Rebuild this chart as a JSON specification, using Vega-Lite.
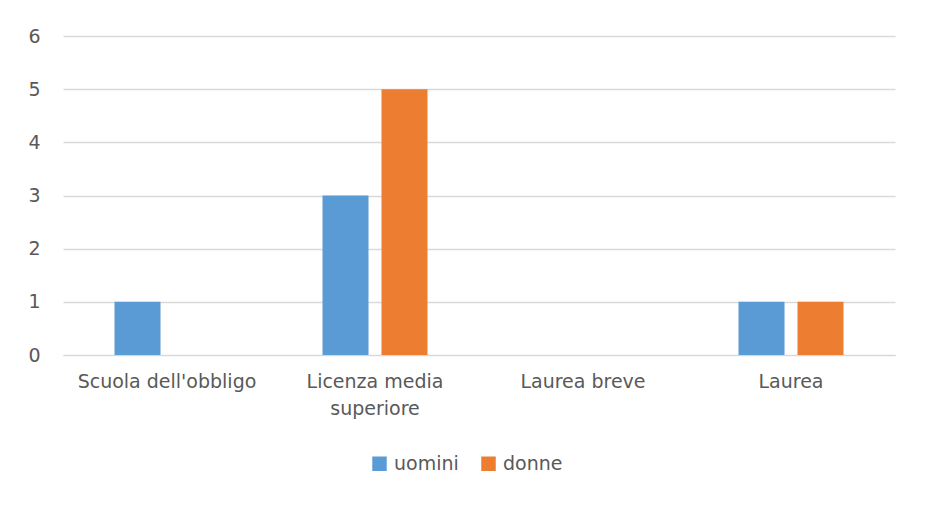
{
  "$schema": "https://vega.github.io/schema/vega-lite/v6.json",
  "autosize": "none",
  "width": 832,
  "height": 319,
  "padding": {"left": 63, "top": 36, "right": 32, "bottom": 151},
  "background": "white",
  "data": {
    "values": [
      {"titolo": "Scuola dell'obbligo", "sesso": "uomini", "n": 1},
      {"titolo": "Scuola dell'obbligo", "sesso": "donne", "n": 0},
      {"titolo": "Licenza media superiore", "sesso": "uomini", "n": 3},
      {"titolo": "Licenza media superiore", "sesso": "donne", "n": 5},
      {"titolo": "Laurea breve", "sesso": "uomini", "n": 0},
      {"titolo": "Laurea breve", "sesso": "donne", "n": 0},
      {"titolo": "Laurea", "sesso": "uomini", "n": 1},
      {"titolo": "Laurea", "sesso": "donne", "n": 1}
    ]
  },
  "mark": {"type": "bar"},
  "encoding": {
    "x": {
      "field": "titolo",
      "type": "nominal",
      "sort": ["Scuola dell'obbligo", "Licenza media superiore", "Laurea breve", "Laurea"],
      "scale": {"paddingInner": 0, "paddingOuter": 0},
      "axis": {
        "title": null,
        "labelAngle": 0,
        "ticks": false,
        "domain": true,
        "domainColor": "#D9D9D9",
        "labelPadding": 17,
        "labelFont": "DejaVu Sans",
        "labelFontSize": 19,
        "labelColor": "#595959",
        "labelLineHeight": 27,
        "labelBaseline": "top",
        "labelExpr": "datum.label == 'Licenza media superiore' ? ['Licenza media', 'superiore'] : datum.label"
      }
    },
    "xOffset": {
      "field": "sesso",
      "type": "nominal",
      "sort": ["uomini", "donne"],
      "scale": {"paddingInner": 0.22, "paddingOuter": 0.873}
    },
    "y": {
      "field": "n",
      "type": "quantitative",
      "scale": {"domain": [0, 6]},
      "axis": {
        "title": null,
        "tickCount": 6,
        "ticks": false,
        "domain": false,
        "gridColor": "#D9D9D9",
        "gridWidth": 1.3,
        "labelPadding": 23,
        "labelFont": "DejaVu Sans",
        "labelFontSize": 19,
        "labelColor": "#595959"
      }
    },
    "color": {
      "field": "sesso",
      "type": "nominal",
      "sort": ["uomini", "donne"],
      "scale": {"domain": ["uomini", "donne"], "range": ["#5B9BD5", "#ED7D31"]},
      "legend": {
        "title": null,
        "orient": "none",
        "direction": "horizontal",
        "legendX": 307,
        "legendY": 418,
        "symbolType": "square",
        "symbolSize": 210,
        "symbolStrokeWidth": 0,
        "labelFont": "DejaVu Sans",
        "labelFontSize": 19,
        "labelColor": "#595959",
        "labelOffset": 5,
        "columnPadding": 20
      }
    }
  },
  "config": {"view": {"stroke": null}}
}
